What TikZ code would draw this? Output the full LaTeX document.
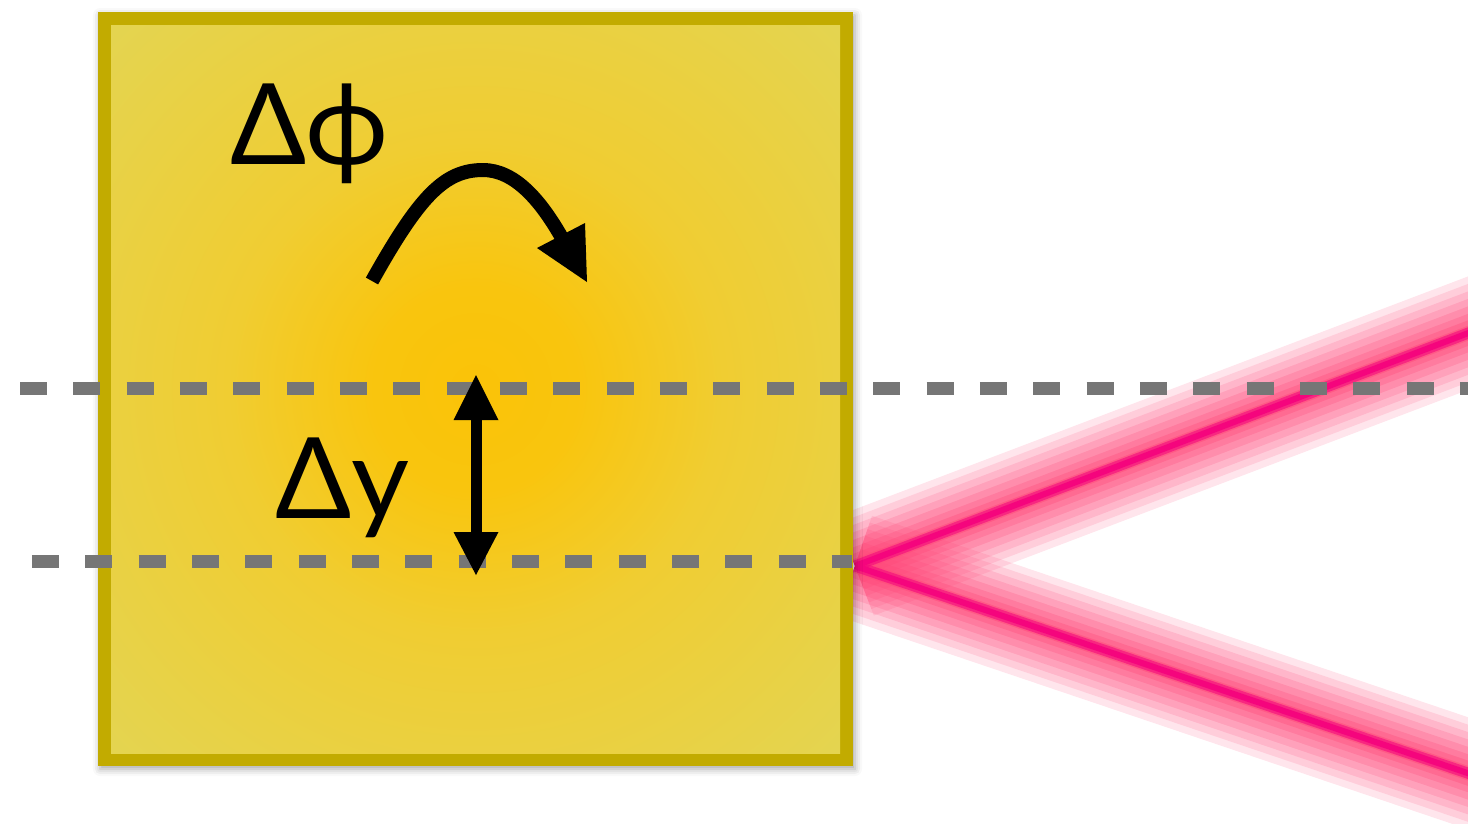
\documentclass[tikz,border=0pt]{standalone}
\usepackage{fontspec}
\setmainfont{Lato}
\usetikzlibrary{shadows.blur}
\definecolor{frameolive}{RGB}{194,171,0}
\definecolor{dashgray}{RGB}{118,118,118}
\definecolor{cA}{RGB}{250,195,8}
\definecolor{cA2}{RGB}{249,197,14}
\definecolor{cB}{RGB}{240,205,50}
\definecolor{cC}{RGB}{228,212,80}
\definecolor{cD}{RGB}{220,217,105}
\definecolor{beamglow}{RGB}{255,70,120}
\definecolor{beamcore}{RGB}{245,5,125}
\pgfdeclareradialshading{sqshade}{\pgfpoint{0bp}{0bp}}{color(0bp)=(cA); color(7bp)=(cA2); color(17bp)=(cB); color(35bp)=(cC); color(50bp)=(cD)}
\tikzset{
  dashline/.style={draw=dashgray, line width=0.13cm, dash pattern=on 0.27cm off 0.263cm},
  glowstroke/.style={draw=beamglow, line cap=butt},
  bigtext/.style={anchor=base west, inner sep=0pt, font=\fontsize{32}{38}\selectfont},
}
\begin{document}
\begin{tikzpicture}[x=0.01cm,y=-0.01cm]
\useasboundingbox (0,0) rectangle (1468,823);
% beams
\coordinate (v) at (855,566);
\coordinate (bu) at (1500,321);
\coordinate (bl) at (1500,784);
\foreach \w/\o in {1.06/0.14,0.92/0.15,0.78/0.17,0.64/0.19,0.50/0.22,0.36/0.26,0.24/0.32,0.14/0.45}{
  \draw[glowstroke, line width=\w cm, opacity=\o] (v) -- (bu);
  \draw[glowstroke, line width=\w cm, opacity=\o] (v) -- (bl);
}
\draw[draw=beamcore, line width=0.11cm, opacity=0.6] (v) -- (bu);
\draw[draw=beamcore, line width=0.11cm, opacity=0.6] (v) -- (bl);
\draw[draw=beamcore, line width=0.06cm] (v) -- (bu);
\draw[draw=beamcore, line width=0.06cm] (v) -- (bl);
% square
\fill[frameolive, blur shadow={shadow blur radius=0.07cm, shadow xshift=0.02cm, shadow yshift=-0.03cm, shadow opacity=35}] (98,12) rectangle (853,766);
\shade[shading=sqshade] (111,25) rectangle (840,753);
% dashed lines
\coordinate (t1) at (20,388.5);
\coordinate (t2) at (1480,388.5);
\coordinate (b1) at (32,561.5);
\coordinate (b2) at (852,561.5);
\draw[dashline] (t1) -- (t2);
\draw[dashline] (b1) -- (b2);
% curved arrow
\draw[line width=0.14cm] (372,281) .. controls (420,195) and (445,170) .. (483,170)
   .. controls (515,170) and (541,201) .. (562,238);
\fill (587,282) -- (585,223) -- (537,248) -- cycle;
% double arrow
\fill (470.5,418) rectangle (481.5,534);
\fill (476,375) -- (498.5,420) -- (453.5,420) -- cycle;
\fill (476,575) -- (498.5,532) -- (453.5,532) -- cycle;
% labels
\node[bigtext] (dphi) at (230,164) {Δϕ};
\node[bigtext] (dy) at (275,518) {Δy};
\end{tikzpicture}
\end{document}
